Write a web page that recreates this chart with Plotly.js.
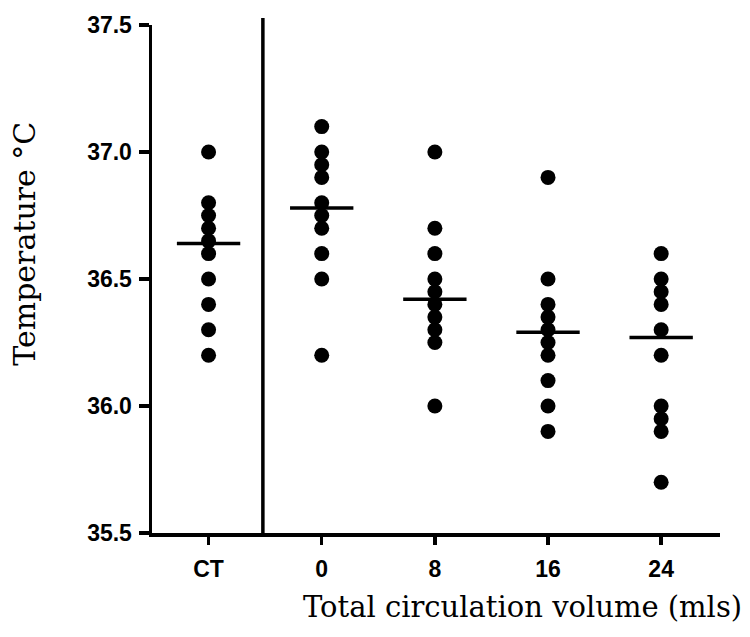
<!DOCTYPE html>
<html>
<head>
<meta charset="utf-8">
<script src="https://cdn.plot.ly/plotly-3.0.1.min.js"></script>
<style>
  html, body { margin: 0; padding: 0; background: #fff; }
  #chart { width: 750px; height: 637px; }
</style>
</head>
<body>
<div id="chart"></div>
<script>
// Groups along the x axis: control plus four circulation volumes
const groups = ['CT', '0', '8', '16', '24'];

// Individual temperatures (°C) per group
const tempCT = [37.0, 36.8, 36.75, 36.7, 36.65, 36.6, 36.5, 36.4, 36.3, 36.2];
const temp0  = [37.1, 37.0, 36.95, 36.9, 36.8, 36.75, 36.7, 36.6, 36.5, 36.2];
const temp8  = [37.0, 36.7, 36.6, 36.5, 36.45, 36.4, 36.35, 36.3, 36.25, 36.0];
const temp16 = [36.9, 36.5, 36.4, 36.35, 36.3, 36.25, 36.2, 36.1, 36.0, 35.9];
const temp24 = [36.6, 36.5, 36.45, 36.4, 36.3, 36.2, 36.0, 35.95, 35.9, 35.7];

// Group means shown as horizontal bars
const groupMeans = [36.64, 36.78, 36.42, 36.29, 36.27];

// Y tick values and their labels
const yTicks = [35.5, 36.0, 36.5, 37.0, 37.5];
const yTickText = ['35.5', '36.0', '36.5', '37.0', '37.5'];

const allTemps = [tempCT, temp0, temp8, temp16, temp24];

// Scatter points: one x position per group
const px = [], py = [];
allTemps.forEach((vals, i) => {
  vals.forEach(v => { px.push(i); py.push(v); });
});

// Mean bars built as short line segments around each group position
const half = 0.28;
const mx = [], my = [];
groupMeans.forEach((m, i) => {
  mx.push(i - half, i + half, null);
  my.push(m, m, null);
});

const traces = [
  {
    x: px, y: py, type: 'scatter', mode: 'markers',
    marker: { color: '#000', size: 15, symbol: 'circle' },
    hoverinfo: 'y', showlegend: false, cliponaxis: false
  },
  {
    x: mx, y: my, type: 'scatter', mode: 'lines',
    line: { color: '#000', width: 3.5 },
    hoverinfo: 'skip', showlegend: false, connectgaps: false
  }
];

function tickFont() {
  return { family: 'Liberation Sans, Arial, sans-serif', size: 23, color: '#000', weight: 'bold' };
}
function titleFont(size) {
  return { family: 'DejaVu Serif, serif', size: size, color: '#000' };
}

const layout = {
  width: 750, height: 637,
  margin: { l: 152, r: 30, t: 25, b: 104 },
  paper_bgcolor: '#fff', plot_bgcolor: '#fff',
  showlegend: false,
  xaxis: {
    range: [-0.5, 4.52],
    tickmode: 'array', tickvals: [0, 1, 2, 3, 4], ticktext: groups,
    showgrid: false, zeroline: false,
    showline: true, linecolor: '#000', linewidth: 3.5,
    ticks: 'outside', ticklen: 8, tickwidth: 3.5, tickcolor: '#000',
    tickfont: tickFont(), ticklabelstandoff: 5
  },
  yaxis: {
    range: [35.5, 37.5],
    tickmode: 'array', tickvals: yTicks, ticktext: yTickText,
    showgrid: false, zeroline: false,
    showline: true, linecolor: '#000', linewidth: 3.5,
    ticks: 'outside', ticklen: 10, tickwidth: 3.5, tickcolor: '#000',
    tickfont: tickFont(), ticklabelstandoff: 2
  },
  shapes: [
    // divider between the control group and the treated groups
    { type: 'line', xref: 'x', yref: 'paper', x0: 0.48, x1: 0.48, y0: 0, y1: 1.014,
      line: { color: '#000', width: 3.5 } }
  ],
  annotations: [
    { text: 'Total circulation volume (mls)', xref: 'paper', yref: 'paper',
      x: 0.653, y: -0.146, xanchor: 'center', yanchor: 'middle',
      showarrow: false, font: titleFont(29) },
    { text: 'Temperature °C', xref: 'paper', yref: 'paper',
      x: -0.224, y: 0.569, xanchor: 'center', yanchor: 'middle', textangle: -90,
      showarrow: false, font: titleFont(30) }
  ]
};

Plotly.newPlot('chart', traces, layout, { displayModeBar: false, staticPlot: true });
</script>
</body>
</html>
